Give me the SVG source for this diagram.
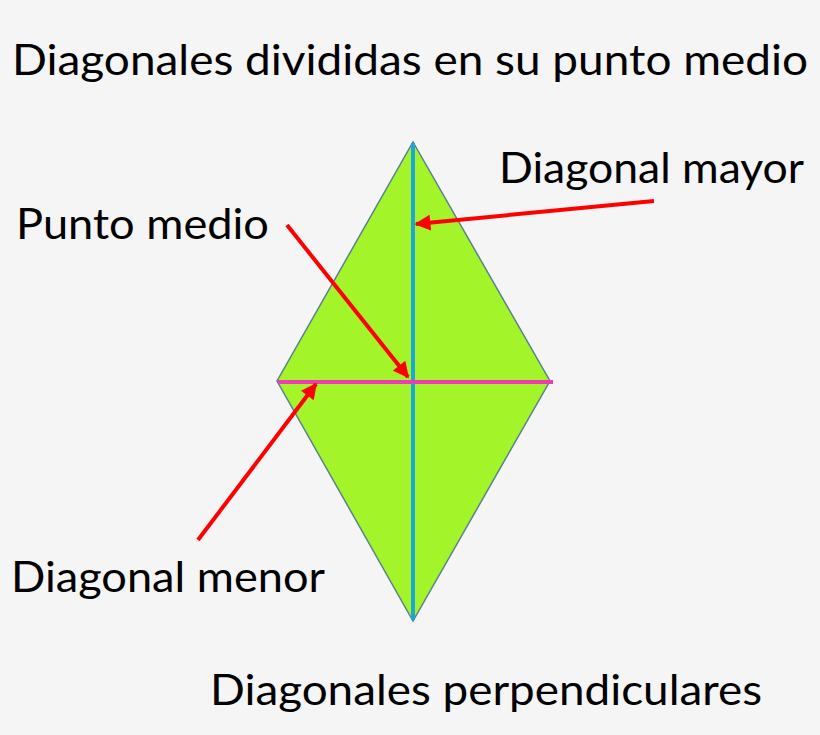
<svg xmlns="http://www.w3.org/2000/svg" width="820" height="735" viewBox="0 0 820 735">
<defs>
<style>
.t{font-family:Lato,"Open Sans","Liberation Sans",sans-serif;font-size:43px;fill:#000;}
.arr{stroke:#ff0000;stroke-width:4;fill:none;marker-end:url(#ah);}
</style>
<marker id="ah" viewBox="0 0 10 10" refX="9" refY="5" markerWidth="4.2" markerHeight="4" orient="auto" markerUnits="strokeWidth">
<path d="M0,0 L10,5 L0,10 Z" fill="#ff0000"/>
</marker>
</defs>
<rect width="820" height="735" fill="#f5f5f5"/>
<g id="rombo">
<polygon points="413,142 550,381 413,621 277,381" fill="#a4f42a" stroke="#5a8090" stroke-width="1.5"/>
</g>
<g id="diagonal-mayor-linea">
<line x1="413" y1="143" x2="413" y2="620" stroke="#1aa8d8" stroke-width="4"/>
</g>
<g id="diagonal-menor-linea">
<line x1="278" y1="382" x2="553" y2="382" stroke="#f03cb4" stroke-width="4"/>
</g>
<g id="titulo"><text class="t" x="12" y="75" textLength="796" lengthAdjust="spacingAndGlyphs">Diagonales divididas en su punto medio</text></g>
<g id="lbl-mayor"><text class="t" x="499" y="183" textLength="305" lengthAdjust="spacingAndGlyphs">Diagonal mayor</text></g>
<g id="lbl-punto"><text class="t" x="16" y="239" textLength="253" lengthAdjust="spacingAndGlyphs">Punto medio</text></g>
<g id="lbl-menor"><text class="t" x="11" y="592" textLength="314" lengthAdjust="spacingAndGlyphs">Diagonal menor</text></g>
<g id="lbl-perp"><text class="t" x="210" y="705" textLength="552" lengthAdjust="spacingAndGlyphs">Diagonales perpendiculares</text></g>
<g id="conectores">
<line class="arr" x1="654" y1="201" x2="416" y2="224"/>
<line class="arr" x1="287" y1="225" x2="408" y2="377"/>
<line class="arr" x1="198" y1="540" x2="316" y2="384"/>
</g>
</svg>
